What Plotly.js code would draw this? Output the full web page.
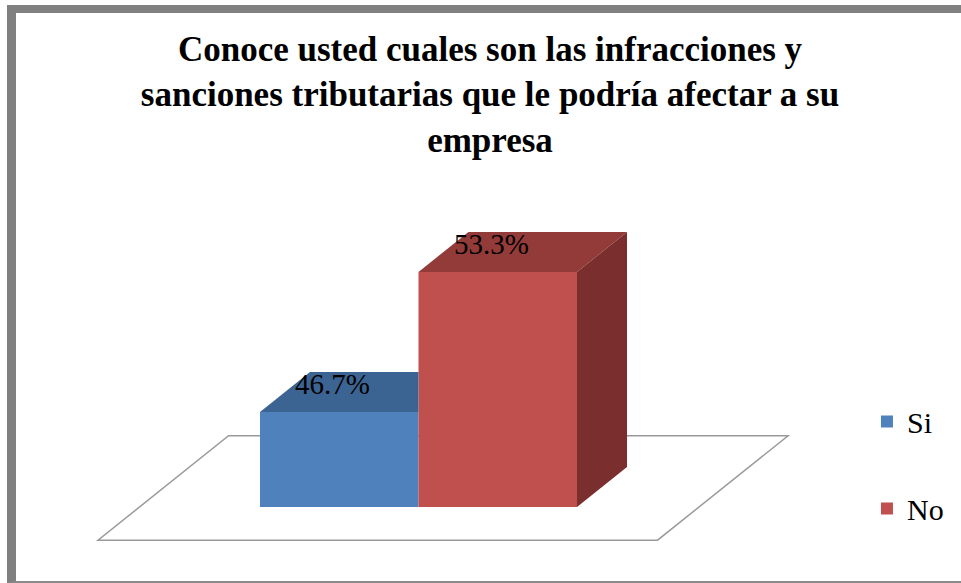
<!DOCTYPE html>
<html>
<head>
<meta charset="utf-8">
<script src="https://cdn.plot.ly/plotly-3.0.1.min.js"></script>
<style>
  html, body { margin: 0; padding: 0; background: #ffffff; width: 961px; height: 583px; overflow: hidden; }
  #frame { position: absolute; left: 7px; top: 5px; width: 945px; height: 568px;
           border-top: 8px solid #808080; border-left: 9px solid #808080; border-bottom: 2px solid #8a8a8a; }
  #chart { width: 945px; height: 568px; }
</style>
</head>
<body>
<div id="frame"><div id="chart"></div></div>
<script>
// ---- data ----
const categories = ['Si', 'No'];
const values = [46.7, 53.3];
const valueLabels = ['46.7%', '53.3%'];

// ---- styles ----
const SERIF = '"Liberation Serif", "Times New Roman", Times, serif';
const frontColors = ['#4F81BD', '#C0504D'];
const topColors = ['#3C6493', '#933B39'];
const sideColors = ['#2E4D74', '#7A2F2E'];

// pseudo-3D projection (axis units)
const BASE = 42.22;   // value axis floor
const DX = 0.3155;    // depth shift along category axis
const DY = 1.886;     // depth shift along value axis
const FLOOR = { x0: -0.76, x1: 2.77, z0: -0.83, z1: 1.78 };

function P(x, v, z) { return [x + z * DX, v + z * DY]; }

const traces = [];

// front faces: real bar traces
categories.forEach((c, i) => {
  traces.push({
    type: 'bar', name: c, legendgroup: c,
    x: [i + 0.5], y: [values[i] - BASE], base: BASE, width: 1,
    marker: { color: frontColors[i], line: { width: 0 } },
    hoverinfo: 'name'
  });
});

// top and side faces
categories.forEach((c, i) => {
  const v = values[i];
  const nextHigher = i < values.length - 1 && values[i + 1] > v;
  let pts;
  if (nextHigher) {
    pts = [P(i, v, 0), P(i + 1, v, 0), [i + 1, v + DY], P(i, v, 1)];
  } else {
    pts = [P(i, v, 0), P(i + 1, v, 0), P(i + 1, v, 1), P(i, v, 1)];
  }
  pts.push(pts[0]);
  traces.push({
    type: 'scatter', mode: 'lines', fill: 'toself', showlegend: false, hoverinfo: 'skip',
    x: pts.map(p => p[0]), y: pts.map(p => p[1]),
    fillcolor: topColors[i], line: { width: 0, color: topColors[i] }
  });
  if (!nextHigher) {
    const s = [P(i + 1, v, 0), P(i + 1, v, 1), P(i + 1, BASE, 1), P(i + 1, BASE, 0)];
    s.push(s[0]);
    traces.push({
      type: 'scatter', mode: 'lines', fill: 'toself', showlegend: false, hoverinfo: 'skip',
      x: s.map(p => p[0]), y: s.map(p => p[1]),
      fillcolor: sideColors[i], line: { width: 0, color: sideColors[i] }
    });
  }
});

// floor
const fc = [P(FLOOR.x0, BASE, FLOOR.z0), P(FLOOR.x1, BASE, FLOOR.z0), P(FLOOR.x1, BASE, FLOOR.z1), P(FLOOR.x0, BASE, FLOOR.z1)];
const floorPath = 'M' + fc.map(p => p[0] + ',' + p[1]).join(' L') + ' Z';

const annotations = categories.map((c, i) => ({
  x: i + 0.46, y: values[i] + 1.3, xref: 'x', yref: 'y',
  text: valueLabels[i], showarrow: false,
  font: { family: SERIF, size: 29, color: '#000000' },
  xanchor: 'center', yanchor: 'middle'
}));

const layout = {
  width: 945, height: 568,
  margin: { l: 64, r: 161, t: 187, b: 21, autoexpand: false },
  paper_bgcolor: '#ffffff', plot_bgcolor: 'rgba(0,0,0,0)',
  title: {
    text: '<b>Conoce usted cuales son las infracciones y<br>sanciones tributarias que le podría afectar a su<br>empresa</b>',
    font: { family: SERIF, size: 35, color: '#000000' },
    x: 0.5016, xref: 'container', xanchor: 'center',
    y: 0.916, yref: 'container', yanchor: 'top'
  },
  barmode: 'overlay',
  xaxis: { range: [-1.1356, 3.4069], visible: false, fixedrange: true },
  yaxis: { range: [39.72, 56.69], visible: false, fixedrange: true },
  showlegend: true,
  legend: {
    x: 1.093, xanchor: 'left', y: 0.457, yanchor: 'top',
    traceorder: 'grouped', tracegroupgap: 45,
    font: { family: SERIF, size: 30, color: '#000000' },
    bgcolor: 'rgba(0,0,0,0)'
  },
  shapes: [{
    type: 'path', xref: 'x', yref: 'y', path: floorPath, layer: 'below',
    line: { color: '#9A9A9A', width: 1.5 }, fillcolor: 'rgba(0,0,0,0)'
  }],
  annotations: annotations
};

Plotly.newPlot('chart', traces, layout, { displayModeBar: false, staticPlot: true });
</script>
</body>
</html>
